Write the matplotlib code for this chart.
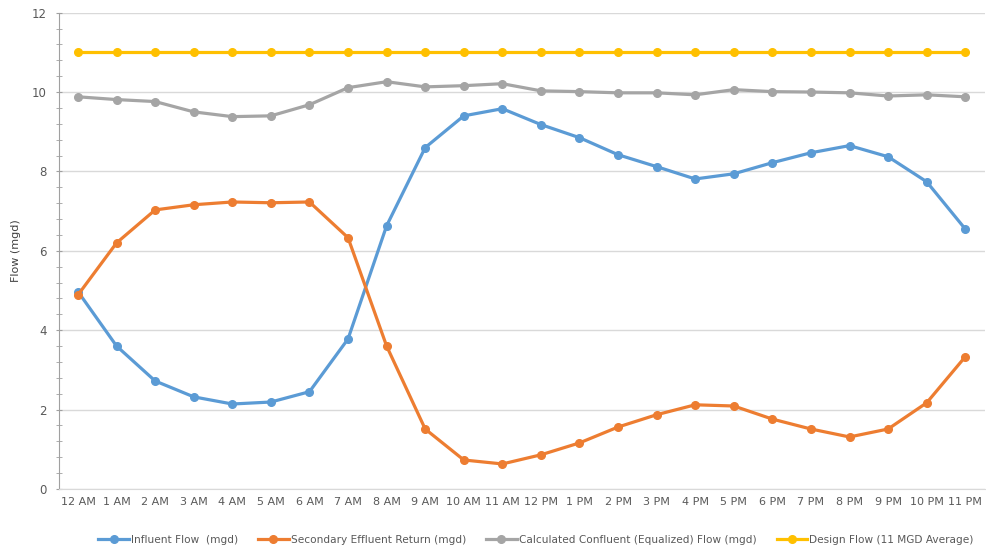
import matplotlib
matplotlib.use("Agg")
import matplotlib.pyplot as plt
from matplotlib.ticker import MultipleLocator

hours = ["12 AM", "1 AM", "2 AM", "3 AM", "4 AM", "5 AM", "6 AM", "7 AM", "8 AM", "9 AM",
         "10 AM", "11 AM", "12 PM", "1 PM", "2 PM", "3 PM", "4 PM", "5 PM", "6 PM", "7 PM",
         "8 PM", "9 PM", "10 PM", "11 PM"]
influent = [4.97, 3.60, 2.72, 2.32, 2.14, 2.19, 2.45, 3.78, 6.63, 8.60, 9.40, 9.58,
            9.18, 8.85, 8.42, 8.12, 7.81, 7.94, 8.22, 8.47, 8.65, 8.37, 7.74, 6.55]
secondary = [4.89, 6.20, 7.03, 7.16, 7.23, 7.21, 7.23, 6.33, 3.60, 1.51, 0.73, 0.63,
             0.86, 1.16, 1.56, 1.87, 2.12, 2.09, 1.76, 1.51, 1.31, 1.51, 2.17, 3.33]
confluent = [9.88, 9.81, 9.76, 9.50, 9.38, 9.40, 9.68, 10.11, 10.26, 10.13, 10.16, 10.21,
             10.03, 10.01, 9.98, 9.98, 9.93, 10.06, 10.01, 10.00, 9.98, 9.90, 9.93, 9.88]
design = [11.0] * 24

labels = ["Influent Flow  (mgd)", "Secondary Effluent Return (mgd)",
          "Calculated Confluent (Equalized) Flow (mgd)", "Design Flow (11 MGD Average)"]
colors = ["#5B9BD5", "#ED7D31", "#A5A5A5", "#FFC000"]

plt.rcParams['font.family'] = ['DejaVu Sans']
fig = plt.figure(figsize=(9.87, 5.5), dpi=100)
ax = fig.add_axes([0.0595, 0.111, 0.938, 0.866])

x = list(range(len(hours)))
for series, lab, col in zip([influent, secondary, confluent, design], labels, colors):
    ax.plot(x, series, color=col, lw=2.3, marker='o', markersize=5.5, label=lab)

ax.set_xlim(-0.5, 23.5)
ax.set_ylim(0, 12)
ax.set_xticks(x)
ax.set_xticklabels(hours, fontsize=8, color='#595959')
ax.yaxis.set_major_locator(MultipleLocator(2))
ax.yaxis.set_minor_locator(MultipleLocator(0.4))
ax.tick_params(axis='y', which='both', direction='inout', length=5, color='#A0A0A0',
               labelsize=8.5, labelcolor='#595959', pad=6)
ax.tick_params(axis='x', length=0, pad=6)
ax.grid(axis='y', which='major', color='#D9D9D9', lw=1)
ax.set_axisbelow(True)
for s in ['top', 'right']:
    ax.spines[s].set_visible(False)
ax.spines['left'].set_color('#A0A0A0')
ax.spines['bottom'].set_color('#D9D9D9')
ax.set_ylabel("Flow (mgd)", fontsize=8, color='#404040', labelpad=8)

leg = fig.legend(loc='lower center', bbox_to_anchor=(0.543, -0.008), ncol=4, frameon=False,
                 fontsize=7.6, handlelength=2.9, columnspacing=1.9, handletextpad=0.2)
for t in leg.get_texts():
    t.set_color('#595959')

fig.savefig("out.png", dpi=100)
